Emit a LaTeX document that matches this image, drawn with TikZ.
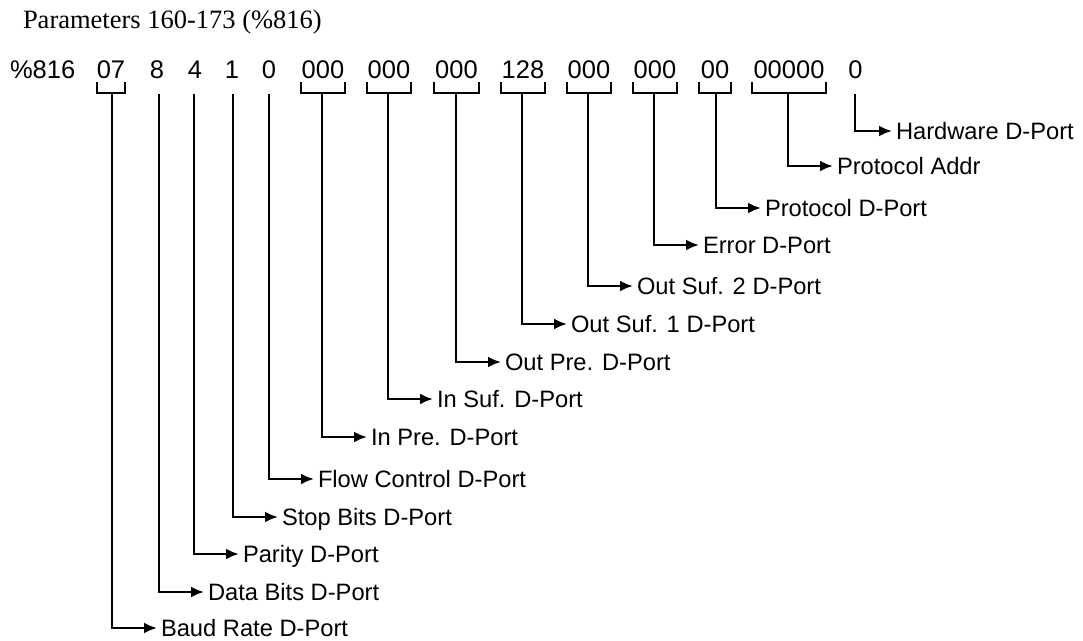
\documentclass[tikz,border=0pt]{standalone}
\usepackage{fontspec}
\setmainfont{Liberation Serif}
\newfontfamily\titlefont{Liberation Serif}
\newfontfamily\numfont{Liberation Sans}
\newfontfamily\labfont{Liberation Sans}
\usetikzlibrary{arrows.meta}
\tikzset{
  num/.style={font=\numfont\fontsize{25.5}{30}\selectfont, inner sep=0pt, outer sep=0pt, anchor=base},
  lab/.style={font=\labfont\fontsize{23.7}{28}\selectfont, inner xsep=4pt, inner ysep=0pt, outer sep=0pt, text height=17pt, text depth=0pt, anchor=west},
  arr/.style={line width=2.6pt, -{Latex[length=13pt,width=11pt]}},
  brk/.style={line width=2.6pt},
  ttl/.style={font=\titlefont\fontsize{26.5}{31}\selectfont, inner sep=0pt, outer sep=0pt, anchor=base west}
}
\begin{document}
\begin{tikzpicture}[x=1pt,y=-1pt]
\useasboundingbox (0,0) rectangle (1083,640);
\node[ttl] (title) at (23,28) {Parameters 160-173 (\%816)};
% number row
\node[num, anchor=base west] (n0) at (10,78) {\%816};
\node[num] (n1) at (111,78) {07};
\node[num] (n2) at (157,78) {8};
\node[num] (n3) at (195,78) {4};
\node[num] (n4) at (232,78) {1};
\node[num] (n5) at (269,78) {0};
\node[num] (n6) at (323,78) {000};
\node[num] (n7) at (389,78) {000};
\node[num] (n8) at (456.5,78) {000};
\node[num] (n9) at (523,78) {128};
\node[num] (n10) at (589,78) {000};
\node[num] (n11) at (655,78) {000};
\node[num] (n12) at (715,78) {00};
\node[num] (n13) at (789,78) {00000};
\node[num] (n14) at (855.5,78) {0};
% brackets
\draw[brk] (97,82) -- (97,93) -- (125,93) -- (125,82);
\draw[brk] (301,82) -- (301,93) -- (345,93) -- (345,82);
\draw[brk] (367,82) -- (367,93) -- (411,93) -- (411,82);
\draw[brk] (434,82) -- (434,93) -- (479,93) -- (479,82);
\draw[brk] (501,82) -- (501,93) -- (545,93) -- (545,82);
\draw[brk] (567,82) -- (567,93) -- (611,93) -- (611,82);
\draw[brk] (633,82) -- (633,93) -- (677,93) -- (677,82);
\draw[brk] (699,82) -- (699,93) -- (731,93) -- (731,82);
\draw[brk] (752,82) -- (752,93) -- (826,93) -- (826,82);
% stem starts
\coordinate (s1) at (112,93);
\coordinate (s2) at (159,94);
\coordinate (s3) at (194,94);
\coordinate (s4) at (233,94);
\coordinate (s5) at (269,94);
\coordinate (s6) at (322,93);
\coordinate (s7) at (388,93);
\coordinate (s8) at (456,93);
\coordinate (s9) at (522,93);
\coordinate (s10) at (588,93);
\coordinate (s11) at (654,93);
\coordinate (s12) at (716,93);
\coordinate (s13) at (788,93);
\coordinate (s14) at (855,94);
% labels
\node[lab] (l14) at (892,131) {Hardware D-Port};
\node[lab] (l13) at (833,166) {Protocol Addr};
\node[lab] (l12) at (761,208) {Protocol D-Port};
\node[lab] (l11) at (699,245) {Error D-Port};
\node[lab] (l10) at (633,286) {Out Suf. 2 D-Port};
\node[lab] (l9) at (567,324) {Out Suf. 1 D-Port};
\node[lab] (l8) at (501,362) {Out Pre. D-Port};
\node[lab] (l7) at (433,399) {In Suf. D-Port};
\node[lab] (l6) at (367,437) {In Pre. D-Port};
\node[lab] (l5) at (314,479) {Flow Control D-Port};
\node[lab] (l4) at (278,517) {Stop Bits D-Port};
\node[lab] (l3) at (239,554) {Parity D-Port};
\node[lab] (l2) at (204,592) {Data Bits D-Port};
\node[lab] (l1) at (157,628) {Baud Rate D-Port};
% connectors
\foreach \i in {1,...,14} {\draw[arr] (s\i) |- (l\i.west);}
\end{tikzpicture}
\end{document}
